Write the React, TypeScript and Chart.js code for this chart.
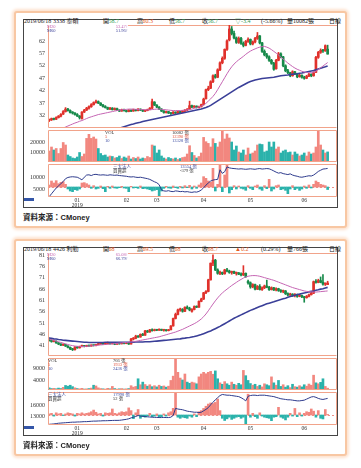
import React, { useEffect, useRef } from "react";
import { Chart, registerables } from "chart.js";

Chart.register(...registerables);

// ---------- shared axis data ----------
const monthLabels = ["01", "02", "03", "04", "05", "06"];
const monthStarts = [12, 33, 46, 66, 86, 109];
const yearLabel = "2019";

// ---------- 3338 泰碩 ----------
const s1Candles = [
  [30.0,30.6,29.6,30.2],[30.3,31.0,30.0,30.8],[30.8,31.0,30.2,30.5],[30.5,31.5,30.4,31.2],[31.2,32.0,31.0,31.8],[31.8,32.8,31.5,32.5],[32.6,34.0,32.4,33.6],[33.6,35.2,33.4,34.6],[34.6,34.9,33.8,34.0],[34.0,34.3,33.0,33.2],
  [33.2,33.6,32.6,33.0],[33.0,33.2,32.2,32.4],[32.4,32.8,31.6,31.8],[31.8,32.0,30.6,31.2],[30.8,33.6,30.5,33.4],[33.4,34.5,33.2,34.2],[34.2,35.3,34.0,35.0],[35.0,35.9,34.6,35.6],[35.6,36.8,35.3,36.4],[36.4,37.5,36.2,37.2],
  [37.2,38.2,37.0,37.6],[37.6,37.9,36.8,37.0],[37.0,37.2,36.0,36.2],[36.2,36.5,35.4,35.6],[35.6,36.0,35.0,35.2],[35.2,35.4,34.4,34.6],[34.6,35.3,34.4,35.0],[35.0,35.2,34.2,34.4],[34.4,35.1,34.2,34.8],[34.8,35.0,34.0,34.2],
  [34.2,34.4,33.6,33.8],[33.8,34.6,33.7,34.4],[34.4,34.6,33.8,34.0],[34.0,34.2,33.4,33.6],[33.6,34.4,33.5,34.2],[34.2,34.3,33.6,33.8],[33.8,34.6,33.7,34.4],[34.4,34.5,33.8,34.0],[34.0,34.8,33.9,34.6],[34.6,34.7,34.0,34.2],
  [34.2,34.3,33.6,33.8],[33.8,34.2,33.6,34.0],[34.0,34.6,33.9,34.4],[34.4,35.2,34.3,35.0],[35.0,38.6,34.8,37.6],[37.4,37.6,36.0,36.2],[36.2,36.4,35.2,35.4],[35.4,35.6,34.4,34.6],[34.6,34.8,33.6,33.8],[33.8,34.0,33.0,33.2],
  [33.2,33.8,33.0,33.6],[33.6,33.7,32.8,33.0],[33.0,33.2,32.5,32.8],[32.8,33.6,32.7,33.4],[33.4,33.5,32.8,33.0],[33.0,33.8,32.9,33.6],[33.6,33.7,33.0,33.2],[33.2,34.0,33.1,33.8],[33.8,34.4,33.6,34.2],[34.2,34.8,34.0,34.6],
  [34.6,37.8,34.5,36.0],[36.0,36.2,35.2,35.4],[35.4,36.0,35.2,35.8],[35.8,35.9,35.0,35.2],[35.2,35.8,35.1,35.6],[35.6,36.6,35.4,36.4],[36.4,39.0,36.2,38.6],[38.8,42.6,38.6,42.4],[42.4,43.8,42.0,43.0],[43.0,46.0,42.8,45.6],
  [45.6,48.4,45.2,48.0],[48.0,48.6,47.0,47.4],[47.4,50.8,47.2,50.4],[50.4,53.6,50.0,53.2],[53.2,55.6,52.8,55.0],[55.0,58.8,54.6,58.6],[58.6,62.4,58.2,62.0],[62.4,68.3,62.0,66.8],[66.8,67.8,64.4,65.0],[65.0,66.0,62.8,63.2],
  [63.2,63.6,61.0,61.4],[61.4,63.6,61.0,63.0],[63.0,63.4,60.6,61.0],[61.0,61.6,59.6,60.2],[60.2,62.2,60.0,61.8],[61.8,63.2,61.4,62.6],[62.6,62.8,60.4,60.8],[60.8,62.0,60.4,61.6],[61.6,63.4,61.2,63.0],[63.0,65.4,62.6,64.0],
  [64.0,64.2,60.8,61.2],[61.2,61.4,57.4,57.8],[57.8,58.4,56.0,56.4],[56.4,57.0,55.0,55.6],[55.6,56.0,53.8,54.2],[54.2,54.6,52.6,53.0],[53.0,53.4,50.2,50.6],[50.8,54.6,50.6,54.2],[54.2,57.4,54.0,56.8],[56.8,57.2,55.2,55.6],
  [55.6,55.8,51.6,52.0],[52.0,52.4,49.6,50.0],[50.0,50.6,48.8,49.2],[49.2,49.4,47.6,48.0],[48.0,50.0,47.8,49.6],[49.6,49.8,48.4,48.8],[48.8,49.0,47.2,47.6],[47.6,48.6,47.4,48.2],[48.2,48.4,47.0,47.4],[47.4,47.8,46.6,47.0],
  [47.0,48.2,46.8,47.8],[47.8,49.0,47.6,48.6],[48.6,48.8,47.6,48.0],[48.0,49.6,47.8,49.2],[49.4,55.8,49.2,55.4],[55.4,57.8,55.0,57.4],[57.4,58.8,57.0,58.2],[58.2,58.6,57.4,58.0],[58.0,60.4,57.8,60.1],[58.7,60.3,56.7,56.7],
];
const s1Ma20 = [
  null,null,null,null,null,26.5,27.0,27.4,27.8,28.2,
  28.6,29.0,29.3,29.7,30.0,30.4,30.8,31.2,31.5,31.8,
  32.1,32.4,32.6,32.8,33.0,33.2,33.4,33.6,33.8,34.0,
  34.2,34.3,34.4,34.5,34.6,34.6,34.6,34.5,34.5,34.4,
  34.4,34.3,34.3,34.3,34.4,34.5,34.6,34.6,34.5,34.4,
  34.3,34.2,34.1,34.0,34.0,34.0,34.0,34.1,34.2,34.3,
  34.4,34.6,34.9,35.2,35.5,35.8,36.2,36.9,37.8,38.7,
  39.7,40.9,42.4,44.0,45.6,47.2,48.8,50.3,51.6,52.7,
  53.6,54.4,55.1,55.8,56.6,57.3,57.9,58.4,58.8,59.2,
  59.5,59.7,59.8,59.5,59.1,58.5,57.8,57.1,56.3,55.5,
  54.7,53.9,53.1,52.4,51.7,51.1,50.6,50.2,49.8,49.5,
  49.3,49.2,49.2,49.4,49.8,50.5,51.2,51.9,52.6,53.3,
];
const s1Ma60 = [
  null,null,null,null,null,null,null,null,null,null,
  null,null,null,null,null,null,null,null,null,null,
  null,null,null,null,null,null,null,null,null,26.6,
  26.9,27.2,27.5,27.8,28.1,28.4,28.6,28.9,29.1,29.3,
  29.6,29.8,30.0,30.2,30.4,30.6,30.8,31.0,31.2,31.4,
  31.6,31.8,32.0,32.2,32.4,32.6,32.8,33.0,33.2,33.4,
  33.6,33.8,34.0,34.2,34.4,34.6,34.9,35.2,35.6,36.1,
  36.7,37.3,37.9,38.5,39.1,39.7,40.3,40.9,41.5,42.1,
  42.7,43.3,43.8,44.3,44.8,45.3,45.7,46.0,46.3,46.5,
  46.7,46.9,47.0,47.1,47.2,47.3,47.4,47.6,47.8,48.0,
  48.1,48.2,48.3,48.5,48.6,48.7,48.8,49.0,49.1,49.3,
  49.5,49.7,49.9,50.1,50.4,50.7,51.0,51.3,51.6,51.96,
];
const s1Vol = [
  11000,15000,12000,13500,8500,13500,19500,17000,7000,5500,
  4000,3500,5000,9500,5500,8000,23600,27700,23600,25000,
  23000,13500,8500,6500,7000,5000,6000,5500,4000,4500,
  6000,3500,5000,4000,6000,3000,4500,3500,5000,3000,
  4000,3500,5500,4500,17000,16000,9000,12000,6000,4000,
  3000,4500,3500,3000,4000,2500,3500,4500,5000,8000,
  16300,9500,6500,4000,5500,9000,24600,20300,18600,15000,
  23300,18600,15000,20000,31500,23000,28000,24000,20000,12000,
  16000,10000,9000,12000,7000,14000,8000,9000,11000,17000,
  18000,17500,10000,11000,20000,15000,20000,13000,15000,9000,
  11000,12000,9500,10000,7000,10000,8000,6000,7000,9000,
  6000,10000,8000,9000,15000,31500,17000,12000,9000,10082,
];
const s1InstLine = [
  1800,3000,4200,5400,6300,7200,8100,9300,9800,10000,
  10100,10000,9900,9400,8800,9900,10800,10900,10600,11000,
  11100,10900,10800,10900,10800,10700,10900,10800,10700,10800,
  10600,10500,10400,10300,10100,10000,10100,9900,9800,9900,
  9700,9500,9300,9000,8500,8000,7600,6800,4600,4200,
  4100,4300,4000,3900,4200,4100,3900,4000,3800,3900,
  3700,3600,3800,3700,4000,4600,5500,6600,7500,8300,
  8700,8900,9000,13000,11500,12200,14200,13800,13600,13500,
  13400,13300,13400,13300,13200,13300,13400,13300,13200,13400,
  13500,13300,13400,13500,13400,13000,12500,12000,11600,11800,
  11400,11200,11000,11300,10800,10500,10300,10000,9900,10100,
  10300,10500,10400,10800,11500,12300,12800,13300,13400,13554,
];
const s1InstBar = [
  300,900,600,950,500,700,800,400,-300,-600,
  -700,-400,-500,-300,600,650,500,300,-200,200,
  -300,-200,150,-250,-700,100,-200,150,-150,-200,
  -100,100,-150,-200,-700,100,-150,-100,-200,150,
  -250,-200,-300,-400,-600,-500,-400,-1500,-600,-200,
  100,-150,-200,150,-100,-200,100,-150,200,-100,
  250,-300,150,-200,300,600,1550,1300,900,700,
  2800,-600,400,3450,-700,1800,3300,-900,-400,200,
  -300,150,-200,-300,-500,200,-200,-400,150,300,
  -300,-500,200,-250,1150,-600,-300,200,300,-400,
  -300,-500,-1000,-300,200,-400,-200,-500,-300,150,
  -200,300,-150,400,900,700,400,300,200,-379,
];

// ---------- 4426 利勤 ----------
const s2Candles = [
  [44.0,44.4,43.0,43.4],[43.4,43.6,42.5,42.8],[42.8,43.4,42.6,43.0],[43.0,43.1,42.0,42.2],[42.2,42.4,41.4,41.7],[41.7,41.9,41.0,41.2],[41.2,41.8,41.0,41.5],[41.5,41.6,40.6,40.8],[40.8,41.0,40.0,40.2],[40.2,40.4,39.2,39.5],
  [39.5,39.8,38.8,39.2],[39.2,40.6,39.0,40.4],[40.4,40.6,39.8,40.0],[40.0,40.8,39.9,40.6],[40.6,41.2,40.4,41.0],[41.0,41.1,40.4,40.6],[40.6,41.2,40.5,41.0],[41.0,41.2,40.6,40.8],[40.8,41.4,40.7,41.2],[41.2,41.3,40.8,41.0],
  [41.0,41.6,40.9,41.4],[41.4,42.0,41.3,41.7],[41.7,42.3,41.6,42.0],[42.0,42.1,41.4,41.6],[41.6,42.0,41.5,41.8],[41.8,42.6,41.7,42.2],[42.2,42.3,41.6,41.8],[41.8,42.2,41.7,42.0],[42.0,42.1,41.4,41.6],[41.6,42.2,41.5,42.0],
  [42.0,42.1,41.6,41.8],[41.8,42.4,41.7,42.2],[42.2,42.3,41.8,41.9],[41.9,42.2,41.8,42.0],[42.0,42.1,41.5,41.7],[41.7,44.2,41.6,43.9],[43.9,44.6,43.5,44.2],[44.2,45.6,44.0,45.2],[45.2,45.4,44.6,44.8],[44.8,46.2,44.7,46.0],
  [46.0,46.4,45.4,45.6],[45.6,47.8,45.5,47.5],[47.5,47.8,46.8,47.0],[47.0,48.2,46.9,48.0],[48.0,48.4,47.4,47.6],[47.6,48.3,47.5,48.0],[48.0,48.2,47.6,47.8],[47.8,48.4,47.7,48.2],[48.2,48.3,47.6,47.8],[47.8,48.2,47.4,48.0],
  [48.0,48.1,47.4,47.6],[47.6,48.2,47.5,48.0],[48.0,49.9,47.9,49.7],[49.7,53.2,49.6,53.0],[53.0,55.4,52.8,54.8],[54.8,57.2,54.6,56.8],[56.8,57.6,56.2,57.0],[57.0,57.4,55.8,56.2],[56.2,58.2,56.0,58.0],[58.0,58.6,57.2,57.4],
  [57.4,58.0,56.4,56.8],[56.2,57.4,55.8,57.0],[57.0,58.6,56.8,58.3],[58.3,58.6,57.8,58.0],[58.0,60.8,57.9,60.6],[60.6,62.0,60.4,61.6],[61.6,64.6,61.4,64.4],[64.4,65.4,64.0,65.0],[65.0,70.4,64.8,70.1],[70.1,77.6,70.0,77.5],
  [77.5,81.2,76.4,78.8],[78.8,79.2,74.2,74.5],[74.5,75.0,72.6,73.0],[73.0,74.0,72.4,73.4],[73.4,73.6,72.4,72.8],[72.8,74.8,72.6,74.5],[74.5,75.2,73.6,74.0],[74.0,74.4,73.0,73.4],[73.4,74.0,72.6,73.8],[73.8,74.0,72.8,73.0],
  [73.0,73.6,72.2,73.2],[73.2,73.4,72.4,72.6],[72.6,73.2,71.8,72.3],[72.3,76.4,72.0,73.0],[73.0,73.2,71.2,71.6],[69.4,70.0,68.2,68.8],[68.8,69.2,66.4,67.0],[67.0,68.4,66.6,68.0],[68.0,68.2,65.6,66.0],[66.0,67.6,65.8,67.2],
  [67.2,68.0,65.6,65.8],[65.8,67.0,65.4,66.6],[66.6,67.8,66.2,67.4],[67.4,70.0,66.6,66.8],[66.8,67.2,65.4,65.8],[65.8,67.0,65.6,66.6],[66.6,66.8,65.4,65.6],[65.6,66.6,65.2,66.2],[66.2,66.4,65.0,65.4],[65.4,65.8,64.6,65.0],
  [65.0,65.6,64.4,65.2],[65.2,65.4,63.6,64.0],[64.0,64.4,63.0,63.4],[63.4,64.2,63.2,63.8],[63.8,64.0,62.8,63.2],[63.2,64.0,62.6,63.6],[63.6,63.8,62.4,62.8],[62.8,63.6,62.6,63.2],[63.2,63.4,62.2,62.6],[62.6,62.8,60.2,62.2],
  [62.2,63.2,62.0,62.8],[62.8,63.8,62.6,63.5],[63.5,64.6,63.4,64.2],[64.2,69.6,64.0,69.3],[69.3,70.2,68.6,69.0],[69.0,70.4,68.8,69.8],[69.8,71.4,68.8,69.0],[69.0,72.4,67.8,68.2],[68.2,68.8,67.6,68.5],[68.0,69.5,68.0,68.7],
];
const s2Ma20 = [
  43.9,43.6,43.3,43.0,42.7,42.4,42.1,41.8,41.5,41.2,
  41.0,40.8,40.7,40.6,40.6,40.6,40.7,40.8,40.9,41.0,
  41.1,41.2,41.3,41.4,41.5,41.6,41.7,41.8,41.9,42.0,
  42.1,42.2,42.3,42.4,42.5,42.6,42.7,42.9,43.1,43.3,
  43.5,43.7,43.9,44.1,44.3,44.5,44.7,44.9,45.2,45.5,
  45.8,46.1,46.4,46.7,47.0,47.4,47.8,48.2,48.7,49.2,
  49.7,50.2,50.7,51.3,52.0,52.8,53.8,55.0,56.4,57.9,
  59.4,60.8,62.1,63.3,64.3,65.2,66.0,66.8,67.6,68.3,
  69.0,69.7,70.3,70.9,71.4,71.7,71.9,72.0,72.0,71.9,
  71.7,71.4,71.1,70.8,70.5,70.2,69.9,69.5,69.1,68.7,
  68.3,67.9,67.5,67.1,66.7,66.4,66.1,65.8,65.5,65.2,
  65.0,64.9,64.8,64.7,64.7,64.8,64.9,65.0,65.1,65.2,
];
const s2Ma60 = [
  44.3,44.2,44.0,43.9,43.7,43.6,43.4,43.3,43.2,43.1,
  43.0,42.9,42.8,42.7,42.6,42.5,42.5,42.4,42.4,42.4,
  42.4,42.4,42.4,42.4,42.5,42.5,42.5,42.5,42.5,42.5,
  42.5,42.5,42.5,42.5,42.5,42.5,42.5,42.6,42.6,42.6,
  42.6,42.7,42.7,42.7,42.8,42.9,43.0,43.1,43.2,43.3,
  43.4,43.5,43.6,43.7,43.8,43.9,44.0,44.2,44.3,44.5,
  44.6,44.8,45.0,45.3,45.6,45.9,46.3,46.7,47.1,47.5,
  48.0,48.5,49.0,49.5,50.1,50.7,51.3,51.9,52.5,53.1,
  53.6,54.1,54.6,55.1,55.6,56.1,56.6,57.0,57.4,57.9,
  58.3,58.7,59.1,59.5,59.8,60.1,60.4,60.8,61.1,61.4,
  61.7,62.0,62.4,62.7,63.0,63.3,63.6,63.8,64.1,64.3,
  64.5,64.8,65.0,65.2,65.5,65.7,66.0,66.2,66.5,66.79,
];
const s2Vol = [
  900,600,700,500,800,600,1100,1900,1600,2000,
  1400,900,600,500,700,400,500,600,800,2000,
  1700,900,600,500,400,700,500,1500,600,400,
  500,600,400,500,600,1800,1200,1500,4700,2200,
  3300,2300,1600,2200,1400,1800,1300,2000,1500,1700,
  1200,1600,4000,5800,13400,7400,5000,4200,6700,3300,
  2800,3300,3000,2600,5500,6700,7400,6800,7400,7800,
  6600,8000,4700,3000,2400,3500,2600,2000,3300,2400,
  2000,2800,2200,8200,6000,4000,2700,2000,2400,1500,
  2000,1300,2600,2200,1800,5500,3000,2000,4000,1500,
  2200,1200,1800,1000,2400,1400,1200,1800,1300,2200,
  1600,2500,2000,6200,3000,2600,3200,4700,1500,766,
];
const s2InstLine = [
  10700,10750,10800,10900,11000,11050,11100,11150,11200,11250,
  11300,11300,11350,11360,11400,11450,11450,11500,11550,11600,
  11600,11640,11650,11700,11700,11720,11750,11780,11800,11800,
  11820,11900,12000,12100,12250,12500,12700,12900,13180,13000,
  12950,12900,12800,12750,12700,12650,12650,12600,12600,12650,
  12600,12600,12700,13200,15200,15000,14900,14800,14600,14400,
  14300,14200,14100,14100,14000,14100,14500,14900,15400,16200,
  16900,17600,18200,18800,19100,19000,18900,18900,18800,18700,
  18600,18500,18200,17800,17300,18600,18800,18900,18900,18800,
  18900,18900,18900,18800,18700,18600,18500,18300,18100,17900,
  17800,17700,17600,17600,17500,17400,17300,17300,17400,17500,
  17800,18100,18400,18500,18300,18000,17800,17700,17850,17998,
];
const s2InstBar = [
  100,150,-100,200,100,150,-50,100,200,150,
  100,-100,150,100,200,100,150,200,300,450,
  250,100,150,-100,200,150,200,550,150,100,
  200,300,250,300,650,400,-330,200,500,-300,
  -150,-200,-100,150,-150,-100,100,-200,-150,100,
  -100,200,300,610,2100,-200,-300,-200,-250,-300,
  -100,-200,100,-150,300,400,600,800,1000,1100,
  1050,1150,1460,400,-300,-500,-350,-200,-400,-300,
  -200,-150,-300,-200,-820,1900,-200,150,-150,-300,
  200,-100,-200,-250,-300,-520,-200,-150,700,-200,
  -300,-450,-200,150,-100,600,-150,200,-100,150,
  300,250,550,350,-200,400,-300,-360,500,52,
];

// ---------- header / legend texts ----------
const s1Header = [
  ["2019/06/18", "k"], ["3338 泰碩", "k"], ["開", "k"], ["58.7", "g"], ["高", "k"], ["60.3", "o"],
  ["低", "k"], ["56.7", "g"], ["收", "k"], ["56.7", "g"], ["▽-3.4", "g"], ["(-5.66%)", "k"], ["量10082張", "k"], ["日線", "k"],
];
const s2Header = [
  ["2019/06/18", "k"], ["4426 利勤", "k"], ["開", "k"], ["68", "o"], ["高", "k"], ["69.5", "o"],
  ["低", "k"], ["68", "o"], ["收", "k"], ["68.7", "o"], ["▲0.2", "o"], ["(0.29%)", "k"], ["量766張", "k"], ["日線", "k"],
];
const headerX = [24, 53, 103, 108.5, 137, 142.5, 169, 174.5, 202, 207.5, 235, 261, 287, 329];
const s1MaLegend = ["53.47↑", "51.96↑"];
const s2MaLegend = ["65.08↑", "66.79↑"];
const s1VolLegend = ["10082 張", "12390 張", "13328 張"];
const s2VolLegend = ["766 張", "1933 張", "2436 張"];
const s1InstLegend = ["13554 張", "-379 張"];
const s2InstLegend = ["17998 張", "52 張"];

// ---------- styling ----------
const UP = "#e0312b";
const DOWN = "#178a4a";
const VUP = "#f2877f";
const VDOWN = "#2ab2ab";
const MA20C = "#c565b3";
const MA60C = "#3a3f98";
const INSTC = "#2d3a8c";
const PANE = "#f1a38a";
const NUMFONT = '"Liberation Serif", "Times New Roman", serif';
const MIXFONT = '"Liberation Serif", "Noto Sans CJK TC", serif';
const COLORS: Record<string, string> = { k: "#222", g: "#2f9a52", o: "#e55a22" };

const FRAME_L = 23;
const PLOT_R = 337;
const CW = PLOT_R - FRAME_L;
const X_MIN = -0.5;
const X_MAX = 123;

function paneBorder(sides: string[]) {
  return {
    id: "paneBorder",
    afterDraw(chart: any) {
      const { ctx, chartArea: a } = chart;
      const l = Math.round(a.left) + 0.5, r = Math.round(a.right) - 0.5;
      const t = Math.round(a.top) + 0.5, b = Math.round(a.bottom) - 0.5;
      ctx.save();
      ctx.strokeStyle = PANE;
      ctx.lineWidth = 1;
      ctx.beginPath();
      if (sides.includes("top")) { ctx.moveTo(l, t); ctx.lineTo(r, t); }
      if (sides.includes("bottom")) { ctx.moveTo(l, b); ctx.lineTo(r, b); }
      if (sides.includes("left")) { ctx.moveTo(l, t); ctx.lineTo(l, b); }
      if (sides.includes("right")) { ctx.moveTo(r, t); ctx.lineTo(r, b); }
      ctx.stroke();
      ctx.restore();
    },
  };
}

const zeroLine = {
  id: "zeroLine",
  beforeDatasetsDraw(chart: any) {
    const { ctx, chartArea: a } = chart;
    const y = Math.round(chart.scales.yb.getPixelForValue(0)) + 0.5;
    ctx.save();
    ctx.strokeStyle = "#ee8f86";
    ctx.lineWidth = 1;
    ctx.setLineDash([2, 2]);
    ctx.beginPath();
    ctx.moveTo(a.left, y);
    ctx.lineTo(a.right, y);
    ctx.stroke();
    ctx.restore();
  },
};

function yAxis(min: number, max: number, ticks: number[]) {
  return {
    type: "linear",
    position: "left",
    min,
    max,
    grid: { display: false, drawTicks: false },
    border: { display: false },
    afterBuildTicks: (s: any) => { s.ticks = ticks.map((v) => ({ value: v })); },
    afterFit: (s: any) => { s.width = 25; s.paddingTop = 0; s.paddingBottom = 0; },
    ticks: { padding: 3, color: "#333", font: { family: NUMFONT, size: 6 }, callback: (v: any) => String(v) },
  };
}

const xHidden = { type: "linear", min: X_MIN, max: X_MAX, offset: false, display: false };

const xMonths = {
  type: "linear",
  position: "bottom",
  min: X_MIN,
  max: X_MAX,
  offset: false,
  grid: { display: false, drawTicks: false },
  border: { display: false },
  afterBuildTicks: (s: any) => { s.ticks = monthStarts.map((v) => ({ value: v })); },
  afterFit: (s: any) => { s.height = 11; s.paddingLeft = 0; s.paddingRight = 0; },
  ticks: {
    autoSkip: false,
    maxRotation: 0,
    minRotation: 0,
    padding: 1,
    color: "#333",
    font: { family: NUMFONT, size: 5.5, lineHeight: 0.95 },
    callback: (v: any) => {
      const k = monthStarts.indexOf(v);
      if (k < 0) return "";
      return k === 0 ? [monthLabels[k], yearLabel] : monthLabels[k];
    },
  },
};

function baseOptions(scales: any) {
  return {
    responsive: false,
    maintainAspectRatio: false,
    animation: false,
    devicePixelRatio: 1,
    events: [],
    layout: { padding: 0 },
    plugins: { legend: { display: false }, tooltip: { enabled: false } },
    scales,
  };
}

type Stock = {
  candles: number[][];
  ma20: (number | null)[];
  ma60: (number | null)[];
  vol: number[];
  instLine: number[];
  instBar: number[];
  price: [number, number, number[]];
  volAxis: [number, number, number[]];
  instAxis: [number, number, number[]];
  barAxis: [number, number];
};

function priceConfig(s: Stock) {
  const col = s.candles.map((c) => (c[3] >= c[0] ? UP : DOWN));
  return {
    type: "bar",
    data: {
      datasets: [
        { type: "line", data: s.ma20.map((v, i) => ({ x: i, y: v })), borderColor: MA20C, borderWidth: 1, pointRadius: 0, tension: 0, order: 0 },
        { type: "line", data: s.ma60.map((v, i) => ({ x: i, y: v })), borderColor: MA60C, borderWidth: 1.6, pointRadius: 0, tension: 0, order: 1 },
        { type: "bar", data: s.candles.map((c, i) => ({ x: i, y: [c[0], c[3]] })), backgroundColor: col, barThickness: 2, grouped: false, minBarLength: 1, order: 2 },
        { type: "bar", data: s.candles.map((c, i) => ({ x: i, y: [c[2], c[1]] })), backgroundColor: col, barThickness: 1, grouped: false, order: 3 },
      ],
    },
    options: baseOptions({ x: xHidden, y: yAxis(s.price[0], s.price[1], s.price[2]) }),
    plugins: [paneBorder(["left", "bottom"])],
  };
}

function volConfig(s: Stock) {
  const col = s.candles.map((c) => (c[3] >= c[0] ? VUP : VDOWN));
  return {
    type: "bar",
    data: {
      datasets: [
        { type: "bar", data: s.vol.map((v, i) => ({ x: i, y: v })), backgroundColor: col, barThickness: 2, grouped: false },
      ],
    },
    options: baseOptions({ x: xHidden, y: yAxis(s.volAxis[0], s.volAxis[1], s.volAxis[2]) }),
    plugins: [paneBorder(["left", "right", "top", "bottom"])],
  };
}

function instConfig(s: Stock) {
  return {
    type: "bar",
    data: {
      datasets: [
        { type: "line", yAxisID: "y", data: s.instLine.map((v, i) => ({ x: i, y: v })), borderColor: INSTC, borderWidth: 1, pointRadius: 0, tension: 0, order: 0 },
        { type: "bar", yAxisID: "yb", data: s.instBar.map((v, i) => ({ x: i, y: v })), backgroundColor: s.instBar.map((v) => (v >= 0 ? VUP : VDOWN)), barThickness: 2, grouped: false, order: 1 },
      ],
    },
    options: baseOptions({
      x: xMonths,
      y: yAxis(s.instAxis[0], s.instAxis[1], s.instAxis[2]),
      yb: { type: "linear", display: false, min: s.barAxis[0], max: s.barAxis[1] },
    }),
    plugins: [zeroLine, paneBorder(["left", "right", "top", "bottom"])],
  };
}

function PaneCanvas({ top, height, build }: { top: number; height: number; build: () => any }) {
  const ref = useRef<HTMLCanvasElement>(null);
  useEffect(() => {
    const chart = new Chart(ref.current as HTMLCanvasElement, build() as any);
    return () => chart.destroy();
  }, []);
  return (
    <canvas
      ref={ref}
      width={CW}
      height={height}
      style={{ position: "absolute", left: FRAME_L, top, width: CW, height, display: "block" }}
    />
  );
}

function Txt({ x, y, t, s = 6, c = "#222", f = MIXFONT, right = false, w = 400 }: any) {
  const style: any = {
    position: "absolute",
    top: y - s * 0.6,
    fontSize: s,
    lineHeight: `${s * 1.2}px`,
    color: c,
    fontFamily: f,
    fontWeight: w,
    whiteSpace: "nowrap",
  };
  if (right) style.right = 361 - x;
  else style.left = x;
  return <div style={style}>{t}</div>;
}

function Card({ dy, stock, header, maLeg, volLeg, instLeg, volX, volValX, instX, instValX }: any) {
  return (
    <>
      <div
        style={{
          position: "absolute",
          left: 14,
          top: 11 + dy,
          width: 333,
          height: 217,
          boxSizing: "border-box",
          border: "2px solid #f8c7a3",
          borderRadius: 3,
          boxShadow: "0 0 3px 2px #fde2cf",
          background: "#fff",
        }}
      />
      <div
        style={{
          position: "absolute",
          left: FRAME_L,
          top: 19 + dy,
          width: 315,
          height: 189,
          boxSizing: "border-box",
          border: "1px solid #454545",
        }}
      />
      <div style={{ position: "absolute", left: 128, top: 25 + dy, width: 209, height: 1, background: PANE }} />
      <div style={{ position: "absolute", left: 24, top: 198 + dy, width: 10, height: 2.5, background: "#3456a8" }} />
      {header.map((h: string[], i: number) => (
        <Txt key={i} x={headerX[i]} y={22 + dy} t={h[0]} s={6} c={COLORS[h[1]]} />
      ))}
      <PaneCanvas top={25 + dy} height={103} build={() => priceConfig(stock)} />
      <PaneCanvas top={130 + dy} height={32} build={() => volConfig(stock)} />
      <PaneCanvas top={164 + dy} height={44} build={() => instConfig(stock)} />
      <Txt x={47} y={27 + dy} t="M20" s={4.5} c={MA20C} />
      <Txt x={47} y={31 + dy} t="M60" s={4.5} c={MA60C} />
      <Txt x={128} y={27 + dy} t={maLeg[0]} s={4.5} c={MA20C} right />
      <Txt x={128} y={31 + dy} t={maLeg[1]} s={4.5} c={MA60C} right />
      <Txt x={volX} y={132.5 + dy} t="VOL" s={4.5} c="#333" />
      <Txt x={volX} y={136.5 + dy} t="5" s={4.5} c="#e0503a" />
      <Txt x={volX} y={140.5 + dy} t="10" s={4.5} c="#3a4aa0" />
      <Txt x={volValX} y={132.5 + dy} t={volLeg[0]} s={4.5} c="#333" />
      <Txt x={volValX} y={136.5 + dy} t={volLeg[1]} s={4.5} c="#e0503a" />
      <Txt x={volValX} y={140.5 + dy} t={volLeg[2]} s={4.5} c="#3a4aa0" />
      <Txt x={instX} y={167 + dy} t="三大法人" s={4.5} c="#3a4aa0" />
      <Txt x={instX} y={171 + dy} t="買賣超" s={4.5} c="#333" />
      <Txt x={instValX} y={167 + dy} t={instLeg[0]} s={4.5} c="#3a4aa0" />
      <Txt x={instValX} y={171 + dy} t={instLeg[1]} s={4.5} c="#333" />
      <div
        style={{
          position: "absolute",
          left: 23,
          top: 211.5 + dy,
          fontSize: 7.5,
          lineHeight: "9px",
          color: "#222",
          whiteSpace: "nowrap",
          fontFamily: '"Noto Sans CJK TC", sans-serif',
        }}
      >
        <span style={{ fontWeight: 700 }}>資料來源：</span>
        <span style={{ fontFamily: '"Liberation Sans", Arial, sans-serif', fontWeight: 600 }}>CMoney</span>
      </div>
    </>
  );
}

const stock1: Stock = {
  candles: s1Candles,
  ma20: s1Ma20,
  ma60: s1Ma60,
  vol: s1Vol,
  instLine: s1InstLine,
  instBar: s1InstBar,
  price: [27.0, 68.4, [32, 37, 42, 47, 52, 57, 62]],
  volAxis: [0, 32000, [10000, 20000]],
  instAxis: [1670, 15400, [5000, 10000]],
  barAxis: [-1500, 3450],
};

const stock2: Stock = {
  candles: s2Candles,
  ma20: s2Ma20,
  ma60: s2Ma60,
  vol: s2Vol,
  instLine: s2InstLine,
  instBar: s2InstBar,
  price: [36.4, 82.0, [41, 46, 51, 56, 61, 66, 71, 76, 81]],
  volAxis: [0, 13400, [4000, 9000]],
  instAxis: [10500, 19800, [13000, 16000]],
  barAxis: [-913, 2100],
};

export default function App() {
  return (
    <div style={{ position: "absolute", left: 0, top: 0, width: 361, height: 468, background: "#fff", overflow: "hidden" }}>
      <Card dy={0} stock={stock1} header={s1Header} maLeg={s1MaLegend} volLeg={s1VolLegend} instLeg={s1InstLegend}
        volX={105} volValX={172} instX={113} instValX={180} />
      <Card dy={228} stock={stock2} header={s2Header} maLeg={s2MaLegend} volLeg={s2VolLegend} instLeg={s2InstLegend}
        volX={48} volValX={113} instX={48} instValX={113} />
    </div>
  );
}
